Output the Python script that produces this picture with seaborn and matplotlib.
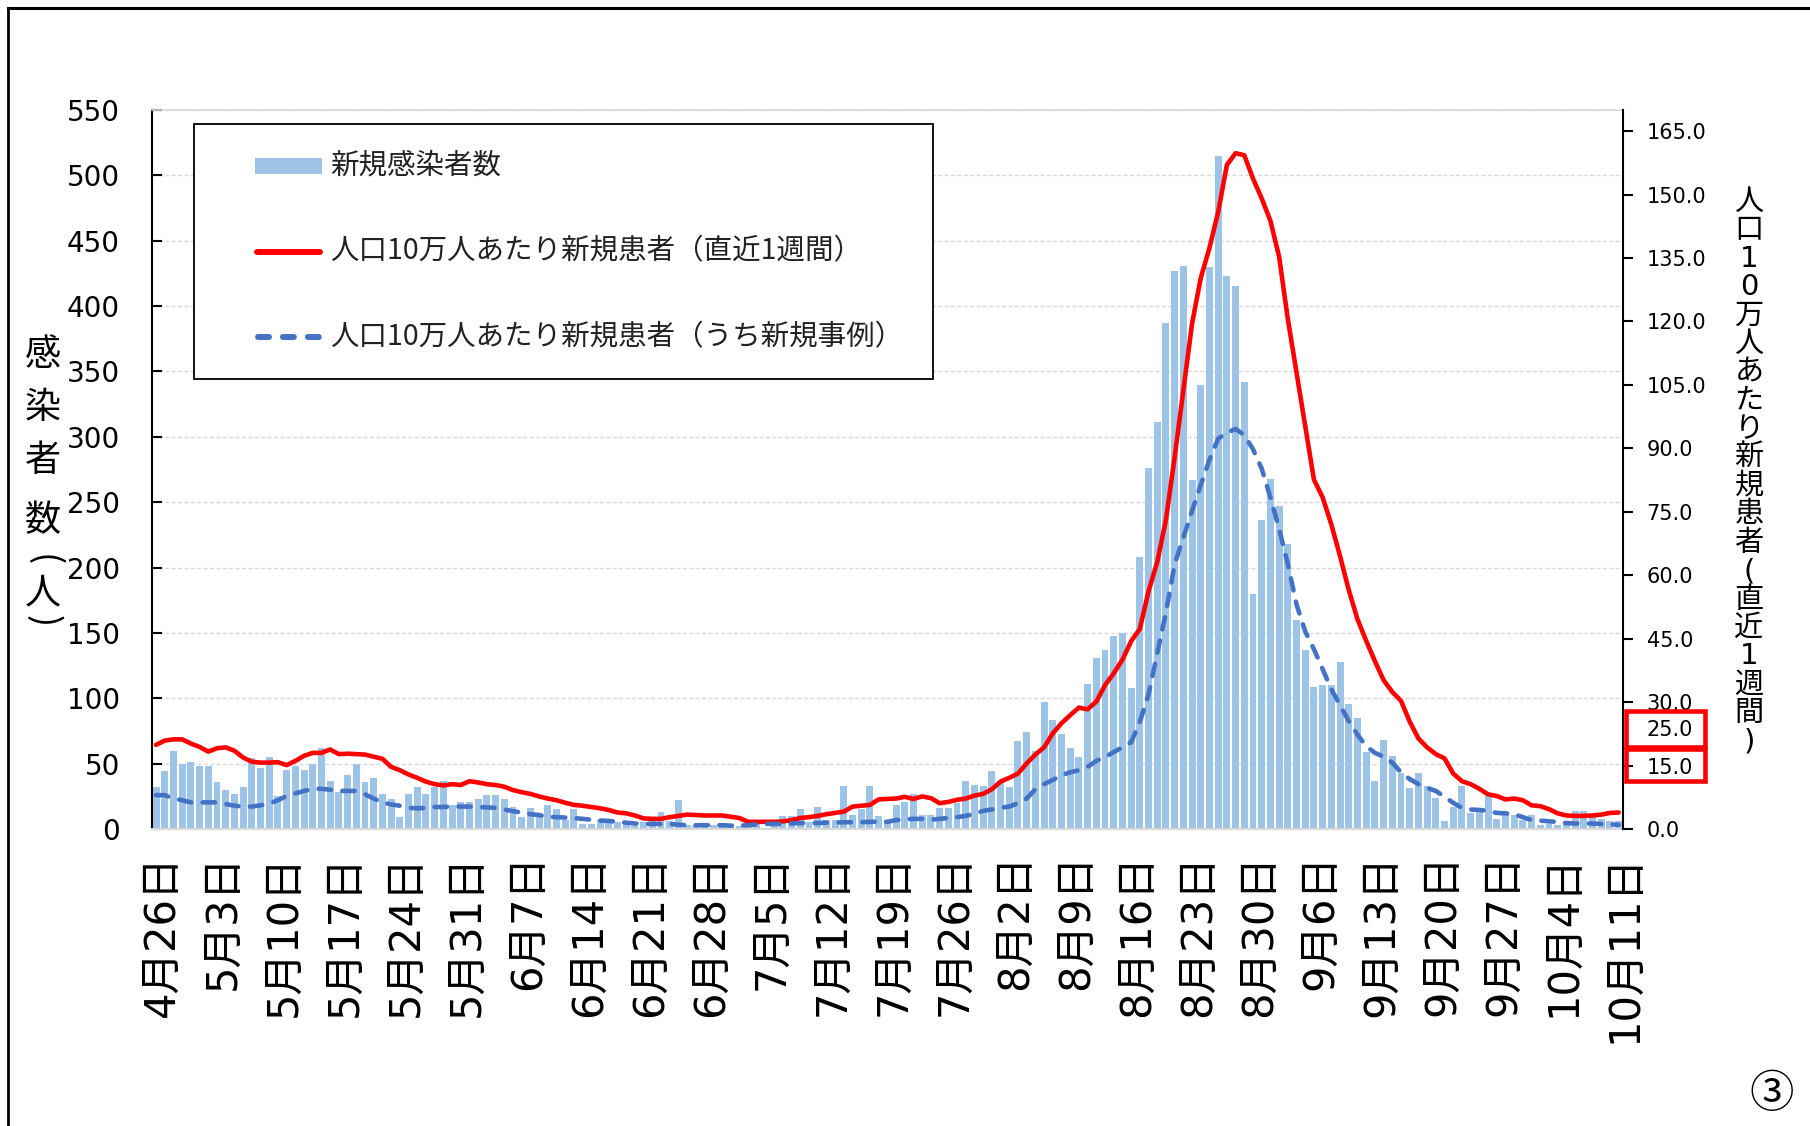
import numpy as np
import pandas as pd
import matplotlib
matplotlib.use("Agg")
import matplotlib.pyplot as plt
import matplotlib.transforms as mtransforms
from matplotlib.patches import Rectangle
from matplotlib.lines import Line2D
import seaborn as sns

# ---------------- data (daily, 4/26 .. 10/11) ----------------
cases = [32, 44, 60, 50, 51, 48, 48, 36, 30, 27, 32, 54, 47, 55, 25, 45, 48, 45, 50, 62,
         37, 28, 41, 50, 36, 39, 27, 23, 9, 27, 32, 27, 32, 37, 18, 21, 21, 23, 26, 26,
         23, 17, 9, 16, 10, 18, 15, 7, 15, 4, 4, 7, 5, 5, 4, 2, 5, 7, 13, 6,
         22, 3, 2, 2, 3, 4, 4, 2, 3, 4, 1, 4, 10, 10, 15, 5, 17, 7, 7, 33,
         11, 15, 33, 10, 7, 18, 21, 27, 11, 11, 16, 16, 20, 37, 34, 33, 44, 35, 32, 67,
         74, 60, 97, 83, 73, 62, 55, 111, 131, 137, 148, 150, 108, 208, 276, 311, 387, 427, 431, 267,
         340, 430, 515, 423, 415, 342, 180, 236, 268, 247, 218, 160, 137, 109, 110, 110, 128, 96, 85, 59,
         37, 68, 56, 43, 31, 43, 33, 24, 6, 17, 33, 12, 13, 25, 8, 13, 11, 7, 11, 3,
         4, 3, 4, 14, 14, 9, 8, 6, 6]

rate_week = [19.9, 20.9, 21.2, 21.2, 20.2, 19.4, 18.3, 19.1, 19.3, 18.5, 16.9, 15.9, 15.7, 15.7, 15.8, 15.1, 16.1, 17.3, 18.0, 18.0,
             18.8, 17.7, 17.8, 17.7, 17.6, 17.1, 16.6, 14.7, 13.9, 12.9, 12.1, 11.2, 10.6, 10.3, 10.6, 10.4, 11.3, 11.0, 10.6, 10.4,
             10.0, 9.2, 8.7, 8.3, 7.7, 7.2, 6.8, 6.2, 5.7, 5.5, 5.2, 4.9, 4.5, 3.9, 3.7, 3.2, 2.5, 2.4, 2.4, 2.8,
             3.1, 3.4, 3.3, 3.2, 3.2, 3.2, 2.9, 2.6, 1.7, 1.7, 1.7, 1.7, 1.8, 2.1, 2.6, 2.8, 3.1, 3.5, 3.8, 4.1,
             5.3, 5.5, 5.7, 7.0, 7.1, 7.2, 7.6, 7.1, 7.7, 7.3, 6.1, 6.4, 6.9, 7.2, 7.9, 8.3, 9.4, 11.2, 12.1, 13.1,
             15.5, 17.6, 19.3, 22.6, 25.0, 26.9, 28.7, 28.3, 30.1, 34.0, 36.8, 40.0, 44.4, 47.3, 56.2, 63.1, 73.1, 87.9, 103.7, 119.5,
             130.3, 137.4, 145.9, 157.0, 159.8, 159.3, 153.8, 149.1, 143.8, 135.3, 120.6, 107.9, 95.3, 82.6, 78.4, 72.0, 64.5, 56.5, 49.6, 44.5,
             39.7, 35.2, 32.4, 30.3, 25.4, 21.4, 19.3, 17.7, 16.7, 13.1, 11.3, 10.6, 9.5, 8.2, 7.8, 7.0, 7.2, 6.8, 5.6, 5.4,
             4.7, 3.7, 3.2, 3.1, 3.1, 3.2, 3.4, 3.8, 3.9]

rate_new = [8.0, 8.0, 7.2, 6.8, 6.3, 6.3, 6.3, 6.3, 5.9, 5.5, 5.3, 5.3, 5.6, 6.0, 6.8, 7.8, 8.4, 9.0, 9.5, 9.5,
            9.3, 9.0, 9.0, 9.0, 8.2, 7.2, 6.3, 5.8, 5.5, 5.0, 4.9, 5.0, 5.2, 5.2, 5.3, 5.3, 5.3, 5.2, 5.1, 5.0,
            4.6, 4.2, 3.9, 3.5, 3.3, 2.9, 2.8, 2.7, 2.6, 2.4, 2.2, 2.0, 1.9, 1.7, 1.5, 1.3, 1.2, 1.2, 1.2, 1.2,
            1.0, 0.9, 0.9, 0.9, 0.9, 0.9, 0.8, 0.8, 0.9, 1.1, 1.2, 1.2, 1.2, 1.3, 1.4, 1.4, 1.4, 1.5, 1.5, 1.6,
            1.6, 1.6, 1.7, 1.7, 1.7, 2.1, 2.3, 2.4, 2.4, 2.2, 2.4, 2.6, 2.8, 3.1, 3.6, 4.3, 4.6, 5.0, 5.3, 6.1,
            7.2, 9.4, 10.6, 11.6, 12.7, 13.4, 13.9, 14.7, 16.1, 17.0, 18.2, 19.3, 20.5, 25.3, 31.8, 41.5, 51.2, 62.6, 68.9, 75.2,
            81.3, 87.3, 92.3, 93.7, 94.6, 93.1, 89.8, 85.2, 78.4, 71.0, 62.6, 53.1, 46.7, 42.5, 37.8, 33.0, 29.3, 25.5, 22.3, 19.6,
            18.0, 17.1, 15.7, 13.4, 11.8, 10.6, 9.7, 9.0, 7.6, 6.2, 5.0, 4.6, 4.5, 4.3, 3.8, 3.7, 3.5, 2.8, 2.1, 2.0,
            1.8, 1.7, 1.4, 1.3, 1.3, 1.3, 1.2, 1.1, 1.0]

date_labels = ["4月26日", "5月3日", "5月10日", "5月17日", "5月24日", "5月31日", "6月7日",
               "6月14日", "6月21日", "6月28日", "7月5日", "7月12日", "7月19日", "7月26日",
               "8月2日", "8月9日", "8月16日", "8月23日", "8月30日", "9月6日", "9月13日",
               "9月20日", "9月27日", "10月4日", "10月11日"]

legend_labels = ["新規感染者数",
                 "人口10万人あたり新規患者（直近1週間）",
                 "人口10万人あたり新規患者（うち新規事例）"]
left_label = "感染者数(人)"
right_label = "人口10万人あたり新規患者(直近1週間)"

# ---------------- styling ----------------
plt.rcParams['font.family'] = ['DejaVu Sans', 'Noto Sans CJK JP']
CJK = ['Noto Sans CJK JP', 'DejaVu Sans']
LATIN_FIRST = ['DejaVu Sans', 'Noto Sans CJK JP']
BAR = '#9DC3E6'
RED = '#FF0000'
BLUE = '#4472C4'

W, H = 1810, 1126
fig = plt.figure(figsize=(W / 100, H / 100), dpi=100)
fig.patch.set_facecolor('white')


def fx(x):
    return x / W


def fy(y):
    return 1 - y / H


L, R, T, B = 151.7, 1623.0, 110.0, 829.0
ax = fig.add_axes([fx(L), fy(B), (R - L) / W, (B - T) / H])

n = len(cases)
df = pd.DataFrame({'day': np.arange(n), 'cases': cases,
                   'week': rate_week, 'new': rate_new})

sns.barplot(data=df, x='day', y='cases', ax=ax, color=BAR, saturation=1,
            width=0.8, edgecolor='none', linewidth=0, zorder=2)
ax.set_xlim(-0.5, n - 0.5)
ax.set_ylim(0, 550)
ax.set_yticks(np.arange(0, 551, 50))
ax.set_xticks(np.arange(0, n, 7))
ax.set_xticklabels(date_labels, rotation=90, fontsize=30, va='top', ha='center')
ax.set_xlabel('')
ax.set_ylabel('')
ax.set_axisbelow(True)
ax.yaxis.grid(True, color='#D9D9D9', linewidth=1.0, linestyle=(0, (3, 1.6)))
ax.xaxis.grid(False)
ax.tick_params(axis='x', length=0, pad=18)
ax.tick_params(axis='y', direction='in', length=7, width=1.5, labelsize=20, pad=23)
ax.spines['left'].set_color('black')
ax.spines['left'].set_linewidth(1.5)
ax.spines['bottom'].set_color('#D9D9D9')
ax.spines['bottom'].set_linewidth(1.5)
ax.spines['top'].set_color('#D9D9D9')
ax.spines['top'].set_linewidth(1.2)
ax.spines['right'].set_visible(False)

off = mtransforms.ScaledTranslation(6 / 100, 0, fig.dpi_scale_trans)
for lab in ax.get_xticklabels():
    lab.set_transform(lab.get_transform() + off)

ax2 = ax.twinx()
sns.lineplot(data=df, x='day', y='week', ax=ax2, color=RED, linewidth=3.3,
             legend=False, zorder=3)
sns.lineplot(data=df, x='day', y='new', ax=ax2, color=BLUE, linewidth=3.3,
             legend=False, zorder=4)
ln_red, ln_blue = ax2.lines[-2], ax2.lines[-1]
ln_red.set_solid_capstyle('round')
ln_red.set_solid_joinstyle('round')
ln_blue.set_dashes([2.7, 2.5])
ln_blue.set_dash_capstyle('round')
ax.set_xlim(-0.5, n - 0.5)
ax2.set_ylim(0, 170)
ax2.set_yticks(np.arange(0, 166, 15))
ax2.set_yticklabels([f"{v:.1f}" for v in np.arange(0, 166, 15)])
ax2.set_xlabel('')
ax2.set_ylabel('')
ax2.tick_params(axis='y', direction='out', length=7, width=1.5, labelsize=15, pad=10)
for s in ['left', 'top', 'bottom']:
    ax2.spines[s].set_visible(False)
ax2.spines['right'].set_color('black')
ax2.spines['right'].set_linewidth(1.5)

# ---------------- legend (framed box) ----------------
fig.patches.append(Rectangle((fx(194), fy(378.6)), (933 - 194) / W, (378.6 - 123.5) / H,
                             transform=fig.transFigure, facecolor='white',
                             edgecolor='black', linewidth=1.3, zorder=5))
rows_y = [166, 251.6, 337]
fig.patches.append(Rectangle((fx(255), fy(rows_y[0] + 8)), 67 / W, 16 / H,
                             transform=fig.transFigure, facecolor=BAR,
                             edgecolor='none', zorder=6))
fig.lines.append(Line2D([fx(257), fx(320)], [fy(rows_y[1])] * 2, transform=fig.transFigure,
                        color=RED, linewidth=4.3, solid_capstyle='round', zorder=6))
lb = Line2D([fx(258), fx(319)], [fy(rows_y[2])] * 2, transform=fig.transFigure,
            color=BLUE, linewidth=4.3, zorder=6)
lb.set_dashes([1.84, 2.33])
lb.set_dash_capstyle('round')
fig.lines.append(lb)
for yy, txt in zip(rows_y, legend_labels):
    fig.text(fx(330), fy(yy), txt, fontsize=20.5, family=CJK, va='center',
             ha='left', color='#222222', zorder=7)

# ---------------- left axis title: stacked characters ----------------
left_pos = [355, 408, 461, 521, 560, 593, 621]
for ch, yy in zip(left_label, left_pos):
    if ch in "()":
        fig.text(fx(43), fy(yy), ch, fontsize=26, family=CJK, ha='center',
                 va='center', rotation=-90, rotation_mode='anchor')
    else:
        fig.text(fx(43), fy(yy), ch, fontsize=26, family=CJK, ha='center', va='center')

# ---------------- right axis title: one stacked multi-line text ----------------
renderer = fig.canvas.get_renderer()
r_chars = list(right_label)
nr = len(r_chars)
r_step, r_first = 28.4, 199.0
rt = fig.text(fx(1749), 0.5, "\n".join(r_chars), fontsize=21, family=LATIN_FIRST,
              ha='center', va='center', multialignment='center', linespacing=1.0)
h1 = rt.get_window_extent(renderer).height
rt.set_linespacing(2.0)
h2 = rt.get_window_extent(renderer).height
a = (h2 - h1) / (nr - 1)
C = h1 - (nr - 1) * a
d = (C - a) / nr
rt.set_linespacing((r_step - d) / a)
rt.set_y(fy(r_first + r_step * (nr - 1) / 2 + 3))

# ---------------- red highlight boxes on right axis ----------------
fig.patches.append(Rectangle((fx(1626), fy(747)), 79 / W, 36 / H, transform=fig.transFigure,
                             facecolor='white', edgecolor=RED, linewidth=3.3, zorder=8))
fig.patches.append(Rectangle((fx(1626), fy(781)), 79 / W, 32 / H, transform=fig.transFigure,
                             facecolor='none', edgecolor=RED, linewidth=3.3, zorder=8))
fig.text(fx(1646), fy(729.5), "25.0", fontsize=15, ha='left', va='center', zorder=9)

# ---------------- frame lines and page number ----------------
fig.lines.append(Line2D([fx(8), 1], [fy(8), fy(8)], transform=fig.transFigure,
                        color='black', linewidth=2.2))
fig.lines.append(Line2D([fx(8), fx(8)], [fy(8), 0], transform=fig.transFigure,
                        color='black', linewidth=2.0))
fig.text(fx(1772), fy(1094), "③", fontsize=32, family=CJK, ha='center', va='center')

fig.savefig("out.png", dpi=100, facecolor='white')
